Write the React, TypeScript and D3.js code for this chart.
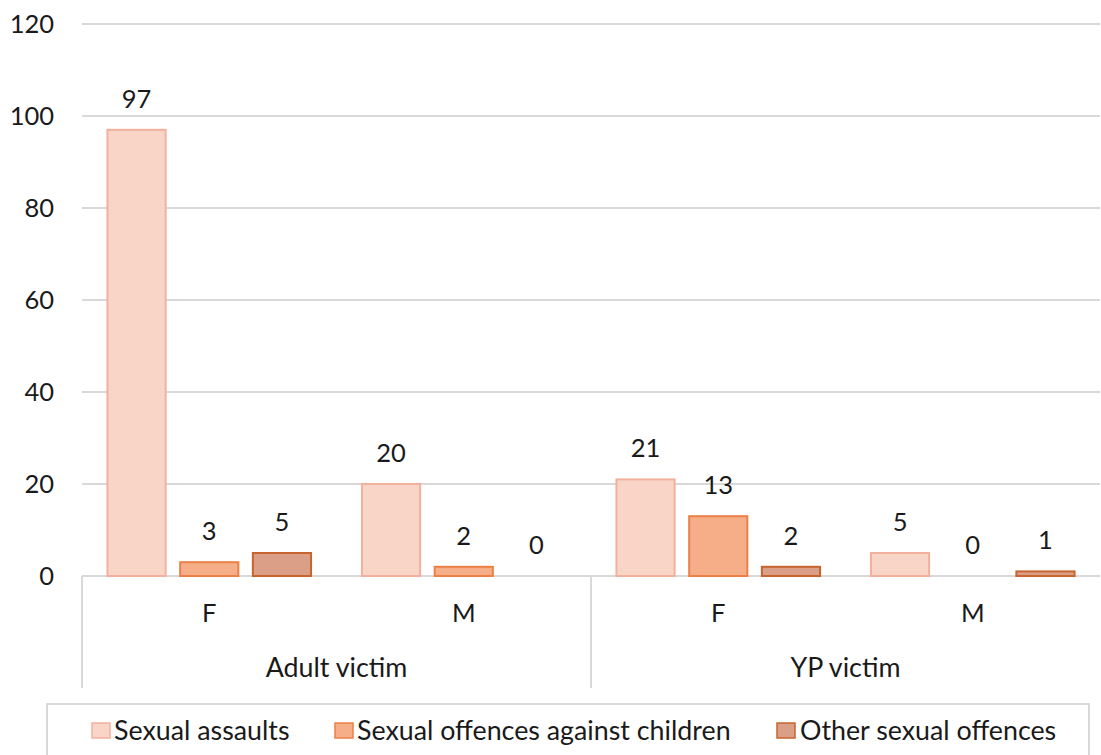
import React from "react";
import * as d3 from "d3";

// Offence counts by victim group and sex
const groups = ["Adult victim", "YP victim"];
const sexes = ["F", "M"];
const series = ["Sexual assaults", "Sexual offences against children", "Other sexual offences"];
const sexualAssaults = [97, 20, 21, 5];
const offencesAgainstChildren = [3, 2, 13, 0];
const otherOffences = [5, 0, 2, 1];
const yTicks = [0, 20, 40, 60, 80, 100, 120];

const fills = ["#F9D5C8", "#F5AE88", "#DB9F88"];
const strokes = ["#F2B19C", "#EC8046", "#C6652F"];

const W = 1101;
const H = 755;
const left = 82;
const right = 1100;
const top = 24;
const bottom = 576;
const font = "Lato, 'Open Sans', sans-serif";
const fs = 25.5;
const fsWide = 26.8;
const ink = "#1a1a1a";

export default function App() {
  const values = [sexualAssaults, offencesAgainstChildren, otherOffences];
  const cats = groups.flatMap((g) => sexes.map((s) => `${g}|${s}`));
  const x0 = d3.scaleBand<string>().domain(cats).range([left, right]).paddingInner(0.2).paddingOuter(0.1);
  const x1 = d3.scaleBand<number>().domain([0, 1, 2]).range([0, x0.bandwidth()]).paddingInner(0.2);
  const y = d3.scaleLinear().domain([0, 120]).range([bottom, top]);
  const catStep = (right - left) / cats.length;
  const groupW = (right - left) / groups.length;

  const legendItems = [
    { sq: 92, tx: 114 },
    { sq: 335, tx: 357 },
    { sq: 777, tx: 800 },
  ];

  return (
    <svg width={W} height={H} style={{ position: "absolute", left: 0, top: 0, background: "#fff" }}>
      {yTicks.map((t) => (
        <g key={t}>
          <line x1={left} x2={right} y1={y(t)} y2={y(t)} stroke="#D9D9D9" strokeWidth={2} />
          <text x={54} y={y(t)} dy="0.36em" textAnchor="end" fontFamily={font} fontSize={fs} fill={ink}>
            {t}
          </text>
        </g>
      ))}
      {cats.map((c, ci) =>
        values.map((arr, si) => {
          const v = arr[ci];
          const bx = (x0(c) as number) + (x1(si) as number);
          const bw = x1.bandwidth();
          return (
            <g key={`${c}-${si}`}>
              {v > 0 && (
                <rect x={bx} y={y(v)} width={bw} height={y(0) - y(v)} fill={fills[si]} stroke={strokes[si]} strokeWidth={2} />
              )}
              <text x={bx + bw / 2} y={y(v) - 22} textAnchor="middle" fontFamily={font} fontSize={fs} fill={ink}>
                {v}
              </text>
            </g>
          );
        })
      )}
      {/* category axis separators */}
      {[0, 1].map((i) => (
        <line key={i} x1={left + i * groupW} x2={left + i * groupW} y1={bottom} y2={688} stroke="#D9D9D9" strokeWidth={2} />
      ))}
      {cats.map((c, ci) => (
        <text key={c} x={left + catStep * (ci + 0.5)} y={622} textAnchor="middle" fontFamily={font} fontSize={fs} fill={ink}>
          {c.split("|")[1]}
        </text>
      ))}
      {groups.map((g, gi) => (
        <text key={g} x={left + groupW * (gi + 0.5)} y={677} textAnchor="middle" fontFamily={font} fontSize={fsWide} fill={ink}>
          {g}
        </text>
      ))}
      <rect x={47} y={704} width={1042} height={60} fill="none" stroke="#D9D9D9" strokeWidth={2} />
      {series.map((s, si) => (
        <g key={s}>
          <rect x={legendItems[si].sq} y={723} width={18} height={15} fill={fills[si]} stroke={strokes[si]} strokeWidth={1.5} />
          <text x={legendItems[si].tx} y={740} fontFamily={font} fontSize={fsWide} fill={ink}>
            {s}
          </text>
        </g>
      ))}
    </svg>
  );
}
